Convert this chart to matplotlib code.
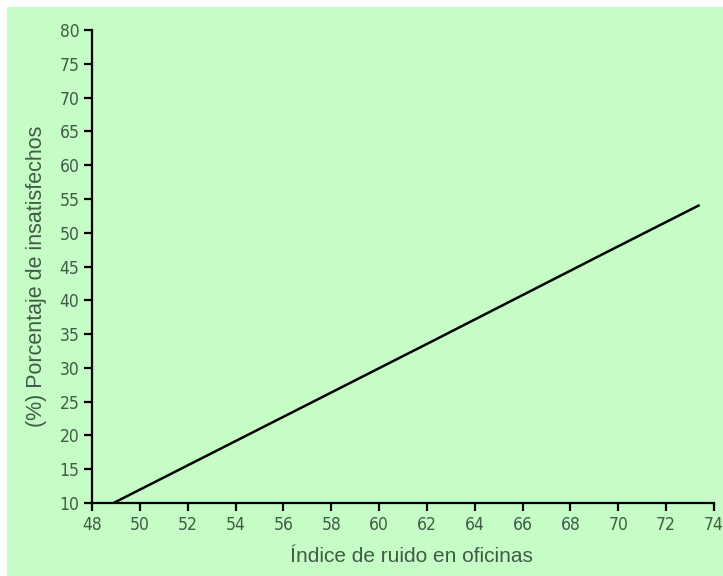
import matplotlib
matplotlib.use("Agg")
import matplotlib.pyplot as plt
from matplotlib.patches import Rectangle

# valores (indice de ruido vs % insatisfechos)
ruido = [48.9, 54.8, 62.2, 69.5, 73.4]
insatisfechos = [10.0, 20.6, 33.9, 47.1, 54.1]

xticks = list(range(48, 75, 2))
yticks = list(range(10, 81, 5))

bg = '#c6fcc6'
txt = '#3f5c44'

plt.rcParams['font.family'] = ['Liberation Sans', 'DejaVu Sans']

fig = plt.figure(figsize=(7.23, 5.76), dpi=100)
fig.patch.set_facecolor('white')
fig.patches.append(Rectangle((7/723, 0), 1, 1 - 7/576, transform=fig.transFigure,
                             facecolor=bg, edgecolor='none', zorder=-10))

ax = fig.add_axes([92/723, 73/576, (714-92)/723, (503-30)/576])
ax.patch.set_alpha(0)

ax.plot(ruido, insatisfechos, color='black', lw=1.8, solid_capstyle='butt')

ax.set_xlim(48, 74)
ax.set_ylim(10, 80)
ax.set_xticks(xticks)
ax.set_yticks(yticks)

for s in ['top', 'right']:
    ax.spines[s].set_visible(False)
for s in ['left', 'bottom']:
    ax.spines[s].set_linewidth(1.6)
    ax.spines[s].set_color('black')

ax.tick_params(direction='out', length=6, width=1.6, colors='black',
               labelcolor=txt, pad=3)
for lab in ax.get_xticklabels() + ax.get_yticklabels():
    lab.set_family('DejaVu Sans')
    lab.set_stretch('condensed')
    lab.set_fontsize(12.5)

ax.set_xlabel('Índice de ruido en oficinas', color=txt, fontsize=15)
ax.set_ylabel('(%) Porcentaje de insatisfechos', color=txt, fontsize=15.5)
ax.xaxis.set_label_coords(0.513, -0.094)
ax.yaxis.set_label_coords(-0.072, 0.48)

fig.savefig('out.png', dpi=100, facecolor=fig.get_facecolor())
